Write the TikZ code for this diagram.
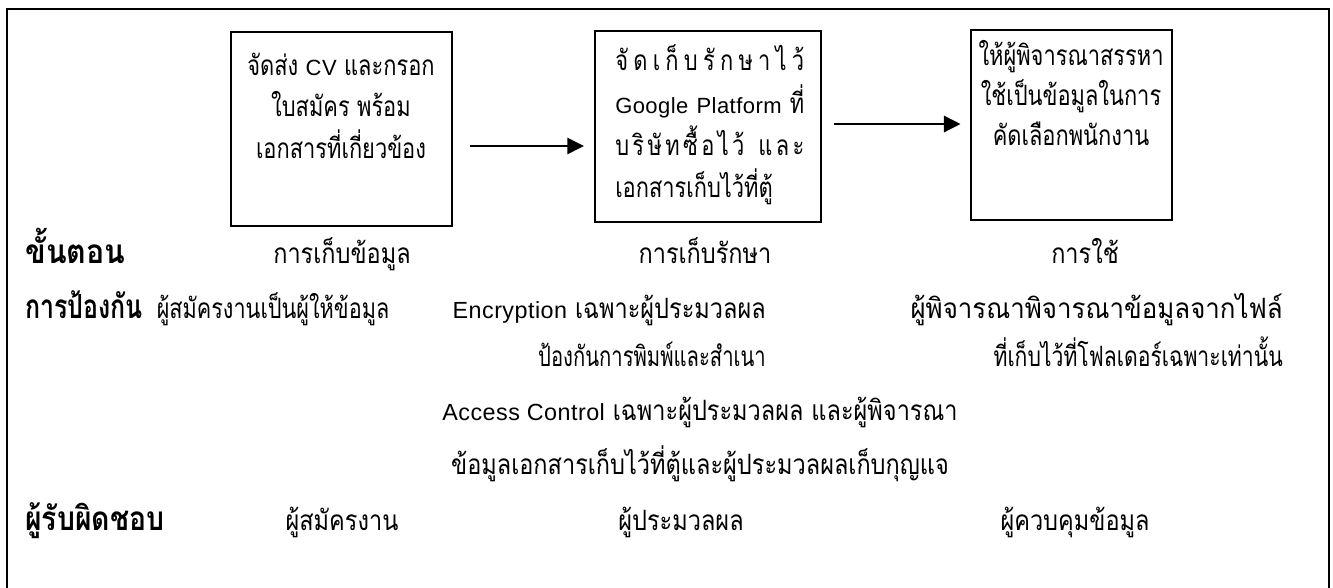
\documentclass[tikz,border=0pt]{standalone}
\usepackage{fontspec}
\usepackage{graphicx}
\usetikzlibrary{arrows.meta}
\newfontfamily\thai[Script=Thai, FakeStretch=0.78]{Loma}
\newfontfamily\thaiw[Script=Thai, FakeStretch=0.84]{Loma}
\newfontfamily\thaib[Script=Thai, FakeStretch=0.85]{Loma}
\newfontfamily\lat[LetterSpace=2]{Liberation Sans}
\newcommand\latin[1]{{\lat\fontsize{17.5}{20}\selectfont #1}}
\newcommand\latinb[1]{{\lat\fontsize{16.5}{20}\selectfont #1}}
\tikzset{
  frame/.style={line width=1.5pt},
  boxnode/.style={draw, line width=1.6pt, inner sep=0pt},
  arr/.style={line width=2.2pt, -{Triangle[length=12.5pt,width=12pt]}},
  txt/.style={anchor=base, inner sep=0pt, font=\thai\fontsize{21}{24}\selectfont},
  otxt/.style={anchor=base, inner sep=0pt, font=\thaiw\fontsize{21}{24}\selectfont},
  lbl/.style={anchor=base west, inner sep=0pt, font=\thaib\bfseries\fontsize{25}{28}\selectfont},
}
\begin{document}
\begin{tikzpicture}[x=0.75pt, y=-0.75pt]
\useasboundingbox (0,0) rectangle (1333,587);
\draw[frame] (7,600) -- (7,9) -- (1329,9) -- (1329,600);
% boxes
\node[boxnode, minimum width=221*0.75pt, minimum height=194*0.75pt] (b1) at (341.5,129) {};
\node[boxnode, minimum width=226*0.75pt, minimum height=191*0.75pt] (b2) at (708,126.5) {};
\node[boxnode, minimum width=201*0.75pt, minimum height=190*0.75pt] (b3) at (1071.5,125) {};
% arrows
\coordinate (a1s) at (470,146);
\coordinate (a2s) at (834,124);
\draw[arr] (a1s) -- ([xshift=-7.5pt]b2.west |- a1s);
\draw[arr] (a2s) -- ([xshift=-7pt]b3.west |- a2s);
% box 1 text
\node[txt] (t11) at (341,75) {จัดส่ง \latinb{CV} และกรอก};
\node[txt] (t12) at (341,116) {ใบสมัคร พร้อม};
\node[txt] (t13) at (341,158) {เอกสารที่เกี่ยวข้อง};
% box 2 text
\node[txt, anchor=base west] (t21) at (615,70) {\makebox[141.75pt][s]{จั\hfill ด\hfill เ\hfill ก็\hfill บ\hfill รั\hfill ก\hfill ษ\hfill า\hfill ไ\hfill ว้}};
\node[txt, anchor=base west] (t22) at (615,113) {\makebox[141.75pt][s]{\latinb{Google}\hfill\latinb{Platform}\hfill ที่}};
\node[txt, anchor=base west] (t23) at (615,155) {\makebox[141.75pt][s]{บ\hfill ริ\hfill ษั\hfill ท\hfill ซื้\hfill อ\hfill ไ\hfill ว้\hspace{8pt}\hfill แ\hfill ล\hfill ะ}};
\node[txt, anchor=base west] (t24) at (615,197) {เอกสารเก็บไว้ที่ตู้};
% box 3 text
\node[txt] (t31) at (1071,65) {ให้ผู้พิจารณาสรรหา};
\node[txt] (t32) at (1071,105) {ใช้เป็นข้อมูลในการ};
\node[txt] (t33) at (1071,145) {คัดเลือกพนักงาน};
% row labels
\node[lbl] (l1) at (25,263) {\scalebox{1.07}[1]{ขั้นตอน}};
\node[lbl] (l2) at (25,318) {\scalebox{0.88}[1]{การป้องกัน}};
\node[lbl] (l3) at (25,530) {ผู้รับผิดชอบ};
% row 1
\node[otxt] (s1) at (342,263) {การเก็บข้อมูล};
\node[otxt] (s2) at (705,263) {การเก็บรักษา};
\node[otxt] (s3) at (1085,263) {การใช้};
% row 2
\node[otxt] (p1) at (273,318) {\scalebox{0.92}[1]{ผู้สมัครงานเป็นผู้ให้ข้อมูล}};
\node[otxt, anchor=base east] (p2) at (766,318) {\latin{Encryption} เฉพาะผู้ประมวลผล};
\node[otxt, anchor=base east] (p3) at (1283,318) {\scalebox{1.1}[1]{ผู้พิจารณาพิจารณาข้อมูลจากไฟล์}};
\node[otxt, anchor=base east] (p4) at (766,366) {\scalebox{0.86}[1]{ป้องกันการพิมพ์และสำเนา}};
\node[otxt, anchor=base east] (p5) at (1283,366) {\scalebox{0.9}[1]{ที่เก็บไว้ที่โฟลเดอร์เฉพาะเท่านั้น}};
\node[otxt] (p6) at (700,420) {\latin{Access Control} เฉพาะผู้ประมวลผล และผู้พิจารณา};
\node[otxt] (p7) at (700,474) {ข้อมูลเอกสารเก็บไว้ที่ตู้และผู้ประมวลผลเก็บกุญแจ};
% row 3
\node[otxt] (r1) at (342,530) {ผู้สมัครงาน};
\node[otxt] (r2) at (681,530) {ผู้ประมวลผล};
\node[otxt] (r3) at (1075,530) {ผู้ควบคุมข้อมูล};
\end{tikzpicture}
\end{document}
